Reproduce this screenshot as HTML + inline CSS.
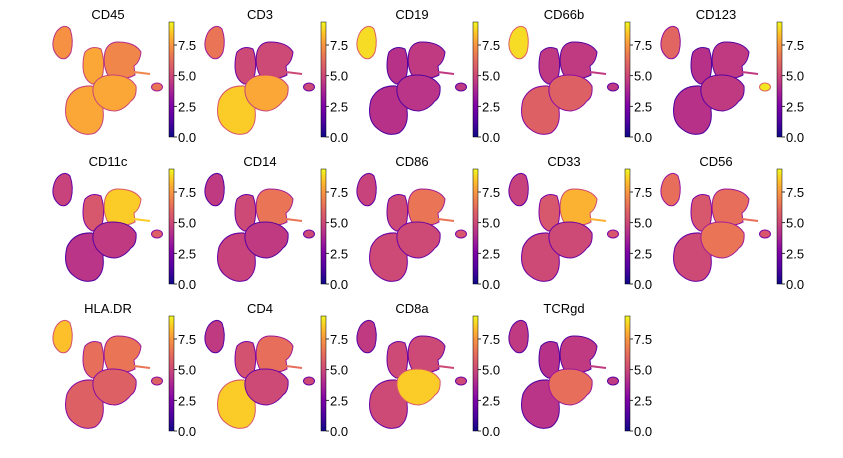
<!DOCTYPE html>
<html><head><meta charset="utf-8"><style>
html,body{margin:0;padding:0;background:#fff;}
svg{display:block;font-family:"Liberation Sans","DejaVu Sans",sans-serif;}
</style></head><body>
<svg id="fig" width="843" height="458" viewBox="0 0 843 458">
<defs>
<linearGradient id="plasma" x1="0" y1="1" x2="0" y2="0">
<stop offset="0" stop-color="#0d0887"/><stop offset="0.13" stop-color="#4c02a1"/>
<stop offset="0.27" stop-color="#7e03a8"/><stop offset="0.4" stop-color="#a92395"/>
<stop offset="0.53" stop-color="#cc4778"/><stop offset="0.67" stop-color="#e66c5c"/>
<stop offset="0.8" stop-color="#f89540"/><stop offset="0.9" stop-color="#fdc328"/>
<stop offset="1" stop-color="#f0f921"/></linearGradient>
</defs>
</svg>
<script>
const markers = ["CD45","CD3","CD19","CD66b","CD123","CD11c","CD14","CD86","CD33","CD56","HLA.DR","CD4","CD8a","TCRgd"];
// per-cluster mean expression: [top-left, mid-left, upper-right, center, bottom-left, small-dot]
const clusterTL = [7.3,6.5,8.8,8.8,6,4.8,4.5,4.8,4.8,6.3,8.3,4.5,4.5,4.5];
const clusterML = [7.8,5,4.2,4.5,4.2,5.5,5,5,5.5,5.5,6.3,5.3,5,4.2];
const clusterUR = [7,5,4.5,4.5,4.5,8.5,6.5,6.5,8,6.3,6.5,6.3,5,4.5];
const clusterC  = [7.8,7.8,4.3,5.8,4.5,4.5,4.5,5,5,6.5,5.8,5,8.5,6.3];
const clusterBL = [7.8,8.5,4.2,5.8,4.2,4.3,4.8,5,5,5,5.8,8.5,5,4.3];
const clusterDot= [6.5,5,4.5,4.5,9,5.8,5,5.5,5.5,5.5,5.8,5,5,4.5];
const cbTicks = [0,2.5,5,7.5];
const cbTickLabels = ["0.0","2.5","5.0","7.5"];
const vmax = 9.3;

const stops=[[0,[13,8,135]],[0.13,[76,2,161]],[0.27,[126,3,168]],[0.4,[169,35,149]],[0.53,[204,71,120]],[0.67,[230,108,92]],[0.8,[248,149,64]],[0.9,[253,195,40]],[1,[240,249,33]]];
function plasma(v){let t=Math.max(0,Math.min(1,v/vmax));for(let i=1;i<stops.length;i++){if(t<=stops[i][0]){const a=stops[i-1],b=stops[i];const f=(t-a[0])/(b[0]-a[0]);const c=a[1].map((x,k)=>Math.round(x+(b[1][k]-x)*f));return `rgb(${c})`;}}return 'rgb(240,249,33)';}
const yScale=v=>137-v*(92/7.5);

const NS="http://www.w3.org/2000/svg";
const svg=document.getElementById('fig');
function mk(tag,attrs,parent){const e=document.createElementNS(NS,tag);for(const k in attrs)e.setAttribute(k,attrs[k]);parent.appendChild(e);return e;}
const shapes=[
 {n:'cluster-top-left',d:'M57,31 Q64,23 70,29 Q74,40 71,52 Q67,61 60,58 Q52,52 53,42 Q54,35 57,31Z',arr:clusterTL},
 {n:'cluster-bottom-left',d:'M67,100 Q74,85 92,86 Q105,94 103,110 Q105,126 95,133 Q84,137 74,129 Q62,120 67,100Z',arr:clusterBL},
 {n:'cluster-mid-left',d:'M85,52 Q92,45 101,49 Q105,60 103,73 Q101,84 92,84 Q83,79 83,66 Q83,57 85,52Z',arr:clusterML},
 {n:'cluster-upper-right',d:'M105,52 Q108,42 118,42 Q135,42 141,52 Q140,62 134,66 L135,75 Q124,81 109,77 Q102,66 105,52Z',arr:clusterUR},
 {n:'cluster-center',d:'M94,84 Q99,75 113,75 Q129,75 136,86 Q137,97 131,101 Q124,110 115,111 Q103,111 96,101 Q91,92 94,84Z',arr:clusterC},
];
markers.forEach((m,i)=>{
 const r=Math.floor(i/5),c=i%5;
 const g=mk('g',{transform:`translate(${152*c},${147*r})`},svg);
 
 
 const t=mk('text',{x:108,y:19,'text-anchor':'middle','font-size':13,fill:'#000'},g);t.textContent=m;
 
 
 shapes.forEach(s=>{const p=mk('path',{d:s.d,fill:plasma(s.arr[i]),stroke:plasma(Math.max(0,s.arr[i]-3)),'stroke-width':1},g);
  
  });
 const tail=mk('path',{d:'M134,72 L150,74',stroke:plasma(clusterUR[i]),'stroke-width':2,fill:'none'},g);
 
 
 const dot=mk('ellipse',{cx:157,cy:87,rx:5.5,ry:4,fill:plasma(clusterDot[i]),stroke:plasma(Math.max(0,clusterDot[i]-3)),'stroke-width':1},g);
 
 
 const cb=mk('rect',{x:169,y:22,width:5,height:115,fill:'url(#plasma)',stroke:'#000','stroke-width':0.5},g);
 
 
 cbTicks.forEach((v,k)=>{const y=yScale(v);
  const tk=mk('line',{x1:174,x2:177,y1:y,y2:y,stroke:'#000','stroke-width':0.8},g);
  
  
  const tl=mk('text',{x:178,y:y+5,'font-size':13,fill:'#000'},g);tl.textContent=cbTickLabels[k];
  
  });
});
</script>
</body></html>
